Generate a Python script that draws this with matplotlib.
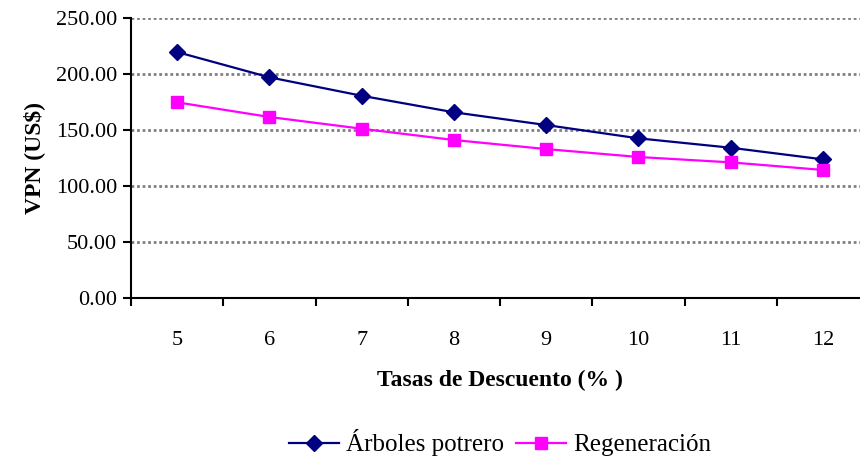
import matplotlib
matplotlib.use("Agg")
import matplotlib.pyplot as plt
import numpy as np

# discount rates (%) and net present values (US$)
tasas = [5, 6, 7, 8, 9, 10, 11, 12]
arboles = [219.8, 197.2, 180.7, 165.9, 154.5, 142.6, 134.2, 123.8]
regeneracion = [174.8, 161.7, 151.2, 141.1, 133.0, 125.9, 121.1, 114.3]

font_size = 16
plt.rcParams['font.family'] = ['Liberation Serif', 'DejaVu Serif']

fig = plt.figure(figsize=(8.6, 4.59), dpi=100)
ax = fig.add_axes([131/860, 1 - 297.7/459, 738/860, 279.4/459])

ind = np.arange(len(tasas))
ax.plot(ind, arboles, color='#000080', lw=1.6, marker='D', ms=8,
        label='Árboles potrero')
ax.plot(ind, regeneracion, color='#FF00FF', lw=1.6, marker='s', ms=8.5,
        label='Regeneración')

ax.set_xlim(-0.5, len(tasas) - 0.5)
ax.set_ylim(0, 250)
ax.set_yticks(np.arange(0, 251, 50))
ax.set_yticklabels(['{:.2f}'.format(v) for v in np.arange(0, 251, 50)])

# category labels at centres, tick marks at boundaries
ax.set_xticks(ind)
ax.set_xticklabels([str(t) for t in tasas])
ax.set_xticks(np.arange(-0.5, len(tasas), 1), minor=True)
ax.tick_params(axis='x', which='major', length=0, pad=24, labelsize=font_size)
ax.tick_params(axis='x', which='minor', length=6, width=1.5, direction='out')
ax.tick_params(axis='y', length=6, width=1.5, direction='out', pad=4,
               labelsize=font_size)

for y in np.arange(50, 251, 50):
    ax.axhline(y, color='#808080', lw=2, ls=(0, (1, 1)), zorder=0)

for s in ['top', 'right']:
    ax.spines[s].set_visible(False)
for s in ['left', 'bottom']:
    ax.spines[s].set_linewidth(1.5)

ax.set_ylabel('VPN (US$)', fontsize=17, fontweight='bold', labelpad=8)
ax.set_xlabel('Tasas de Descuento (% )', fontsize=17, fontweight='bold',
              labelpad=14)

fig.legend(loc='center', bbox_to_anchor=(500/860, 1 - 443/459), ncol=2,
           frameon=False, fontsize=18, handlelength=2.0,
           columnspacing=0.5, handletextpad=0.28)

fig.savefig('out.png', dpi=100)
